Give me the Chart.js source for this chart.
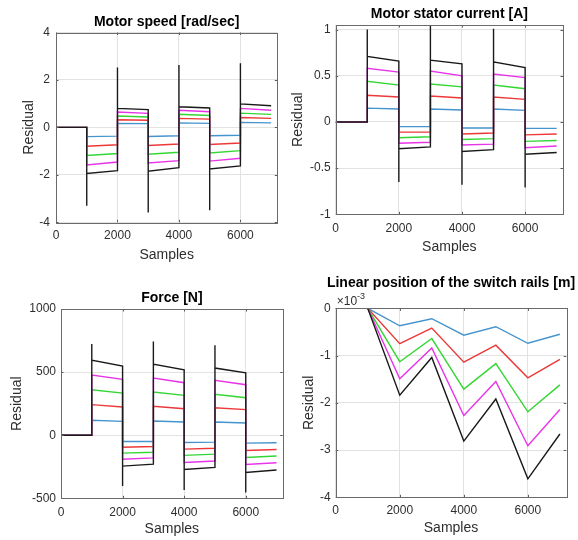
<!DOCTYPE html>
<html>
<head>
<meta charset="utf-8">
<script src="https://cdn.jsdelivr.net/npm/chart.js@4"></script>
<style>
  body { margin: 0; background: #fff; width: 578px; height: 540px; position: relative; overflow: hidden; }
  canvas { position: absolute; }
</style>
</head>
<body>
<canvas id="speed" width="290" height="270" style="left:0;top:0"></canvas>
<canvas id="current" width="290" height="270" style="left:288px;top:0"></canvas>
<canvas id="force" width="290" height="270" style="left:0;top:270px"></canvas>
<canvas id="position" width="290" height="270" style="left:288px;top:270px"></canvas>
<script>
// sample breakpoints for the step signals (end of segment, spike, start of next segment)
var stepSamples = [0, 1000, 1000, 1000, 2000, 2000, 2000, 3000, 3000, 3000, 4000, 4000, 4000, 5000, 5000, 5000, 6000, 6000, 6000, 7000];
var rampSamples = [0, 1000, 2000, 3000, 4000, 5000, 6000, 7000];

// Motor speed [rad/sec]
var speedBlue    = [0, 0, -0.39, -0.39, -0.37, 0.17, 0.17, 0.16, -0.38, -0.38, -0.35, 0.19, 0.19, 0.17, -0.35, -0.35, -0.33, 0.21, 0.21, 0.19];
var speedRed     = [0, 0, -0.79, -0.79, -0.73, 0.32, 0.32, 0.30, -0.76, -0.76, -0.70, 0.38, 0.38, 0.35, -0.72, -0.72, -0.66, 0.42, 0.42, 0.38];
var speedGreen   = [0, 0, -1.18, -1.18, -1.10, 0.48, 0.48, 0.44, -1.13, -1.13, -1.05, 0.55, 0.55, 0.50, -1.08, -1.08, -0.98, 0.60, 0.60, 0.55];
var speedMagenta = [0, 0, -1.58, -1.58, -1.46, 0.65, 0.65, 0.59, -1.50, -1.50, -1.40, 0.72, 0.72, 0.66, -1.42, -1.42, -1.30, 0.80, 0.80, 0.72];
var speedBlack   = [0, 0, -3.30, -1.94, -1.82, 2.52, 0.80, 0.75, -3.59, -1.85, -1.70, 2.63, 0.87, 0.82, -3.49, -1.75, -1.62, 2.70, 0.99, 0.91];

// Motor stator current [A]
var currentBlue    = [0, 0, 0.15, 0.15, 0.14, -0.05, -0.05, -0.05, 0.14, 0.14, 0.13, -0.065, -0.065, -0.065, 0.14, 0.14, 0.125, -0.07, -0.07, -0.07];
var currentRed     = [0, 0, 0.29, 0.29, 0.27, -0.11, -0.11, -0.11, 0.28, 0.28, 0.26, -0.13, -0.13, -0.12, 0.27, 0.27, 0.245, -0.14, -0.14, -0.13];
var currentGreen   = [0, 0, 0.44, 0.44, 0.40, -0.17, -0.17, -0.16, 0.41, 0.41, 0.38, -0.19, -0.19, -0.18, 0.40, 0.40, 0.36, -0.21, -0.21, -0.20];
var currentMagenta = [0, 0, 0.58, 0.58, 0.54, -0.23, -0.23, -0.22, 0.55, 0.55, 0.50, -0.25, -0.25, -0.24, 0.52, 0.52, 0.48, -0.28, -0.28, -0.26];
var currentBlack   = [0, 0, 1.00, 0.71, 0.66, -0.65, -0.29, -0.27, 1.10, 0.67, 0.63, -0.68, -0.32, -0.30, 1.01, 0.65, 0.59, -0.71, -0.35, -0.33];

// Force [N]
var forceBlue    = [0, 0, 118, 118, 110, -50, -50, -50, 113, 113, 105, -58, -58, -55, 105, 105, 97, -63, -63, -60];
var forceRed     = [0, 0, 242, 242, 224, -95, -95, -90, 229, 229, 210, -110, -110, -103, 218, 218, 203, -121, -121, -113];
var forceGreen   = [0, 0, 360, 360, 334, -142, -142, -135, 342, 342, 316, -160, -160, -150, 324, 324, 297, -176, -176, -165];
var forceMagenta = [0, 0, 476, 476, 442, -190, -190, -180, 453, 453, 416, -216, -216, -205, 434, 434, 400, -232, -232, -218];
var forceBlack   = [0, 0, 723, 595, 547, -403, -245, -229, 742, 563, 518, -434, -271, -255, 713, 532, 495, -455, -295, -276];

// Linear position of the switch rails [m], in units of 1e-3
var posBlue    = [0, 0, -0.37, -0.22, -0.57, -0.39, -0.74, -0.55];
var posRed     = [0, 0, -0.75, -0.42, -1.14, -0.78, -1.47, -1.08];
var posGreen   = [0, 0, -1.13, -0.64, -1.71, -1.17, -2.19, -1.62];
var posMagenta = [0, 0, -1.49, -0.84, -2.27, -1.55, -2.91, -2.14];
var posBlack   = [0, 0, -1.84, -1.04, -2.81, -1.92, -3.61, -2.66];

var xTicks = [0, 2000, 4000, 6000];
var lineColors = ['rgb(70,148,205)', 'rgb(236,56,56)', 'rgb(52,214,52)', 'rgb(232,52,232)', 'rgb(25,25,25)'];
var fontFamily = "'Liberation Sans', Arial, Helvetica, sans-serif";

Chart.defaults.font.family = fontFamily;
Chart.defaults.color = '#2e2e2e';

// title, axes box, inward tick marks and the exponent label
var framePlugin = {
  id: 'frame',
  afterDraw: function (chart, args, opts) {
    var ctx = chart.ctx, a = chart.chartArea;
    var xs = chart.scales.x, ys = chart.scales.y;
    ctx.save();
    ctx.strokeStyle = '#5a5a5a';
    ctx.lineWidth = 1;
    ctx.beginPath();
    xs.ticks.forEach(function (t) {
      var px = Math.round(xs.getPixelForValue(t.value)) + 0.5;
      ctx.moveTo(px, a.bottom); ctx.lineTo(px, a.bottom - 2.5);
      ctx.moveTo(px, a.top); ctx.lineTo(px, a.top + 2.5);
    });
    ys.ticks.forEach(function (t) {
      var py = Math.round(ys.getPixelForValue(t.value)) + 0.5;
      ctx.moveTo(a.left, py); ctx.lineTo(a.left + 2.5, py);
      ctx.moveTo(a.right, py); ctx.lineTo(a.right - 2.5, py);
    });
    ctx.stroke();
    ctx.strokeStyle = '#6a6a6a';
    ctx.strokeRect(Math.round(a.left) + 0.5, Math.round(a.top) + 0.5, Math.round(a.right - a.left), Math.round(a.bottom - a.top));

    ctx.fillStyle = '#000';
    ctx.font = 'bold 14px ' + fontFamily;
    ctx.textAlign = 'center';
    ctx.textBaseline = 'middle';
    ctx.fillText(opts.text, (a.left + a.right) / 2, opts.titleY);

    if (opts.exponent) {
      ctx.fillStyle = '#2e2e2e';
      ctx.textAlign = 'left';
      ctx.textBaseline = 'alphabetic';
      ctx.font = '12px ' + fontFamily;
      var base = '\u00d710';
      ctx.fillText(base, a.left + 1, a.top - 3.5);
      var w = ctx.measureText(base).width;
      ctx.font = '9px ' + fontFamily;
      ctx.fillText(opts.exponent, a.left + 1 + w, a.top - 9);
    }
    ctx.restore();
  }
};

function makePanel(id, title, samples, series, yAxis, lay) {
  new Chart(document.getElementById(id), {
    type: 'line',
    data: {
      datasets: series.map(function (values, i) {
        return {
          data: samples.map(function (s, k) { return { x: s, y: values[k] }; }),
          borderColor: lineColors[i],
          borderWidth: 1.4,
          pointRadius: 0,
          tension: 0,
          fill: false,
          order: series.length - i
        };
      })
    },
    options: {
      responsive: false,
      animation: false,
      events: [],
      layout: { padding: { left: 0, right: lay.right, top: lay.top, bottom: 0 } },
      plugins: {
        legend: { display: false },
        tooltip: { enabled: false },
        frame: { text: title, titleY: lay.titleY, exponent: lay.exponent }
      },
      scales: {
        x: {
          type: 'linear',
          min: 0,
          max: 7200,
          afterBuildTicks: function (s) { s.ticks = xTicks.map(function (v) { return { value: v }; }); },
          ticks: { padding: lay.xTickPad, font: { size: 12 }, maxRotation: 0, autoSkip: false, callback: function (v) { return String(v); } },
          grid: { color: '#e2e2e2', drawTicks: false },
          border: { display: false },
          title: { display: true, text: 'Samples', font: { size: 14 }, padding: { top: 0, bottom: lay.xTitleBottom } },
          afterFit: function (s) { s.height = lay.xHeight; }
        },
        y: {
          min: yAxis.min,
          max: yAxis.max,
          afterBuildTicks: function (s) { s.ticks = yAxis.ticks.map(function (v) { return { value: v }; }); },
          ticks: { padding: lay.yTickPad, font: { size: 12 }, autoSkip: false, callback: function (v) { return String(v); } },
          grid: { color: '#e2e2e2', drawTicks: false },
          border: { display: false },
          title: { display: true, text: 'Residual', font: { size: 14 }, padding: { top: lay.yTitleTop, bottom: 0 } },
          afterFit: function (s) { s.width = lay.yWidth; }
        }
      }
    },
    plugins: [framePlugin]
  });
}

makePanel('speed', 'Motor speed [rad/sec]', stepSamples,
  [speedBlue, speedRed, speedGreen, speedMagenta, speedBlack],
  { min: -4, max: 4, ticks: [-4, -2, 0, 2, 4] },
  { right: 12.7, top: 32.5, titleY: 21.7, xHeight: 47.7, xTickPad: 5.8, xTitleBottom: 6.6, yWidth: 56, yTickPad: 6, yTitleTop: 20.9 });

makePanel('current', 'Motor stator current [A]', stepSamples,
  [currentBlue, currentRed, currentGreen, currentMagenta, currentBlack],
  { min: -1, max: 1.05, ticks: [-1, -0.5, 0, 0.5, 1] },
  { right: 15, top: 25, titleY: 14, xHeight: 55.7, xTickPad: 6.8, xTitleBottom: 14.9, yWidth: 47.7, yTickPad: 5, yTitleTop: 1.6 });

makePanel('force', 'Force [N]', stepSamples,
  [forceBlue, forceRed, forceGreen, forceMagenta, forceBlack],
  { min: -500, max: 1000, ticks: [-500, 0, 500, 1000] },
  { right: 7.3, top: 39, titleY: 28.3, xHeight: 41.7, xTickPad: 6.8, xTitleBottom: 2.3, yWidth: 61, yTickPad: 5, yTitleTop: 8.9 });

makePanel('position', 'Linear position of the switch rails [m]', rampSamples,
  [posBlue, posRed, posGreen, posMagenta, posBlack],
  { min: -4, max: 0, ticks: [-4, -3, -2, -1, 0] },
  { right: 11.7, top: 38.3, titleY: 13.3, xHeight: 42.7, xTickPad: 6.5, xTitleBottom: 3.3, yWidth: 47.7, yTickPad: 5, yTitleTop: 12.3, exponent: '-3' });
</script>
</body>
</html>
